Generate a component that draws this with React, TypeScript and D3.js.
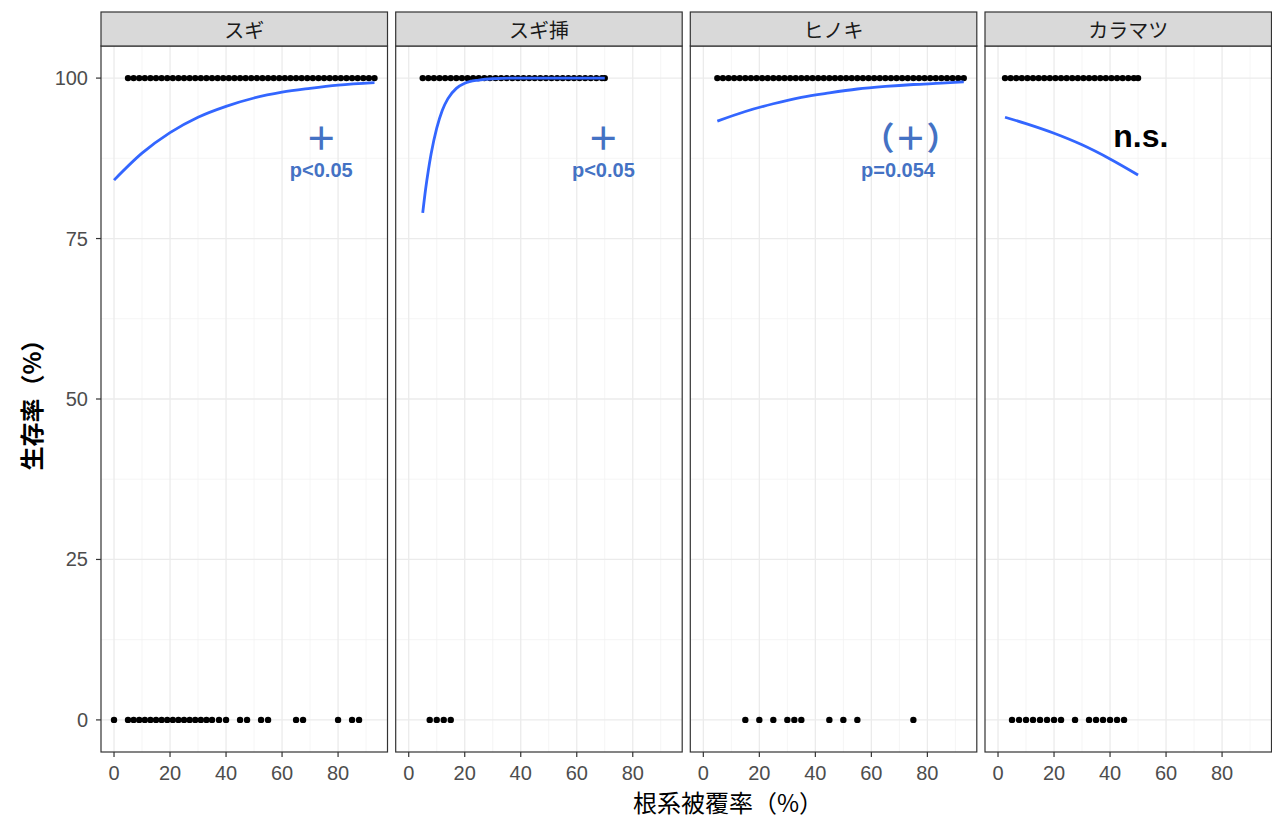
import React from "react";
import * as d3 from "d3";

const species = ["スギ", "スギ挿", "ヒノキ", "カラマツ"];

// survived (100%) root coverage values
const alive0 = [5,7,9,11,13,15,17,19,21,23,25,27,29,31,33,35,37,39,41,43,45,47,49,51,53,55,57,59,61,63,65,67,69,71,73,75,77,79,81,83,85,87,89,91,93];
const alive1 = [5,7,9,11,13,15,17,19,21,23,25,27,29,31,33,35,37,39,41,43,45,47,49,51,53,55,57,59,61,63,65,67,69,70];
const alive2 = [5,7,9,11,13,15,17,19,21,23,25,27,29,31,33,35,37,39,41,43,45,47,49,51,53,55,57,59,61,63,65,67,69,71,73,75,77,79,81,83,85,87,89,91,93];
const alive3 = [2.5,4.5,6.5,8.5,10.5,12.5,14.5,16.5,18.5,20.5,22.5,24.5,26.5,28.5,30.5,32.5,34.5,36.5,38.5,40.5,42.5,44.5,46.5,48.5,50];

// dead (0%) root coverage values
const dead0 = [0,5,7,9,11,13,15,17,19,21,23,25,27,29,31,33,35,37.5,40,45,47.5,52.5,55,65,67.5,80,85,87.5];
const dead1 = [7.5,10,12.5,15];
const dead2 = [15,20,25,30,32.5,35,45,50,55,75];
const dead3 = [5,7.5,10,12.5,15,17.5,20,22.5,27.5,32.5,35,37.5,40,42.5,45];

// fitted curve points: [x, y]
const fit0: [number, number][] = [[0,84.1],[10,88.3],[20,91.5],[30,93.9],[40,95.6],[50,96.9],[60,97.8],[70,98.4],[80,98.9],[93,99.3]];
const fit1: [number, number][] = [[5,79],[6,82.6],[7,85.6],[8,88.2],[10,92.2],[12,95],[14,96.8],[17,98.4],[20,99.2],[25,99.7],[30,99.9],[40,100],[70,100]];
const fit2: [number, number][] = [[5,93.3],[15,94.8],[25,96.0],[35,97.0],[45,97.7],[55,98.3],[65,98.7],[75,99.0],[85,99.2],[93,99.4]];
const fit3: [number, number][] = [[2.5,93.9],[10,92.9],[20,91.4],[30,89.6],[40,87.4],[50,84.9]];

const signLabels = ["＋", "＋", "（＋）", "n.s."];
const pLabels = ["p<0.05", "p<0.05", "p=0.054", ""];
const signX = [74, 69.5, 74, 51];
const pX = [74, 69.5, 69.5, 0];

const xTicks = [0, 20, 40, 60, 80];
const xMinor = [10, 30, 50, 70, 90];
const yTicks = [0, 25, 50, 75, 100];
const yMinor = [12.5, 37.5, 62.5, 87.5];

const alive = [alive0, alive1, alive2, alive3];
const dead = [dead0, dead1, dead2, dead3];
const fits = [fit0, fit1, fit2, fit3];

const W = 1272, H = 819;
const panelTop = 46, panelBottom = 752, stripTop = 12;
const panelLefts = [101, 395.7, 690.3, 985];
const panelW = 286.5;
const font = "'Liberation Sans', Arial, 'Noto Sans CJK JP', sans-serif";
const jpFont = "'Noto Sans CJK JP', 'Liberation Sans', sans-serif";
const blue = "#4472C4";

export default function App() {
  const xmax = 93;
  const pad = xmax * 0.05;
  const y = d3.scaleLinear().domain([-5, 105]).range([panelBottom, panelTop]);

  return (
    <svg width={W} height={H} style={{ position: "absolute", left: 0, top: 0, background: "#fff" }}>
      <rect width={W} height={H} fill="#fff" />
      {species.map((sp, i) => {
        const L = panelLefts[i];
        const x = d3.scaleLinear().domain([-pad, xmax + pad]).range([L, L + panelW]);
        const line = d3.line<[number, number]>().x(d => x(d[0])).y(d => y(d[1])).curve(d3.curveMonotoneX);
        return (
          <g key={sp}>
            {/* grid */}
            {xMinor.map(v => <line key={"xm" + v} x1={x(v)} x2={x(v)} y1={panelTop} y2={panelBottom} stroke="#F3F3F3" strokeWidth={0.8} />)}
            {yMinor.map(v => <line key={"ym" + v} x1={L} x2={L + panelW} y1={y(v)} y2={y(v)} stroke="#F3F3F3" strokeWidth={0.8} />)}
            {xTicks.map(v => <line key={"xg" + v} x1={x(v)} x2={x(v)} y1={panelTop} y2={panelBottom} stroke="#EBEBEB" strokeWidth={1.3} />)}
            {yTicks.map(v => <line key={"yg" + v} x1={L} x2={L + panelW} y1={y(v)} y2={y(v)} stroke="#EBEBEB" strokeWidth={1.3} />)}
            {/* points */}
            {alive[i].map((v, k) => <circle key={"a" + k} cx={x(v)} cy={y(100)} r={3.2} fill="#000" />)}
            {dead[i].map((v, k) => <circle key={"d" + k} cx={x(v)} cy={y(0)} r={3.2} fill="#000" />)}
            {/* fit */}
            <path d={line(fits[i]) || ""} fill="none" stroke="#3366FF" strokeWidth={2.8} />
            {/* annotations */}
            {i < 3 ? (
              <text x={x(signX[i])} y={y(91)} textAnchor="middle" dominantBaseline="central" fill={blue} fontFamily={jpFont} fontWeight="bold" fontSize={32}>{signLabels[i]}</text>
            ) : (
              <text x={x(signX[i])} y={y(91)} textAnchor="middle" dominantBaseline="central" fill="#000" fontFamily={font} fontWeight="bold" fontSize={32}>{signLabels[i]}</text>
            )}
            {pLabels[i] && (
              <text x={x(pX[i])} y={y(85.7)} textAnchor="middle" dominantBaseline="central" fill={blue} fontFamily={font} fontWeight="bold" fontSize={20}>{pLabels[i]}</text>
            )}
            {/* border */}
            <rect x={L} y={panelTop} width={panelW} height={panelBottom - panelTop} fill="none" stroke="#333333" strokeWidth={1.2} />
            {/* strip */}
            <rect x={L} y={stripTop} width={panelW} height={panelTop - stripTop} fill="#D9D9D9" stroke="#333333" strokeWidth={1.2} />
            <text x={L + panelW / 2} y={(stripTop + panelTop) / 2} textAnchor="middle" dominantBaseline="central" fill="#1A1A1A" fontFamily={jpFont} fontSize={20}>{sp}</text>
            {/* x axis */}
            {xTicks.map(v => (
              <g key={"xt" + v}>
                <line x1={x(v)} x2={x(v)} y1={panelBottom} y2={panelBottom + 5} stroke="#333333" strokeWidth={1.2} />
                <text x={x(v)} y={panelBottom + 21} textAnchor="middle" dominantBaseline="central" fill="#4D4D4D" fontFamily={font} fontSize={20}>{v}</text>
              </g>
            ))}
          </g>
        );
      })}
      {/* y axis */}
      {yTicks.map(v => (
        <g key={"yt" + v}>
          <line x1={96} x2={101} y1={y(v)} y2={y(v)} stroke="#333333" strokeWidth={1.2} />
          <text x={88} y={y(v)} textAnchor="end" dominantBaseline="central" fill="#4D4D4D" fontFamily={font} fontSize={20}>{v}</text>
        </g>
      ))}
      <text x={728} y={801} textAnchor="middle" dominantBaseline="central" fill="#000" fontFamily={jpFont} fontSize={24}>根系被覆率（%）</text>
      <text transform={`translate(30,${(panelTop + panelBottom) / 2}) rotate(-90)`} textAnchor="middle" dominantBaseline="central" fill="#000" fontFamily={jpFont} fontWeight="bold" fontSize={24}>生存率（%）</text>
    </svg>
  );
}
